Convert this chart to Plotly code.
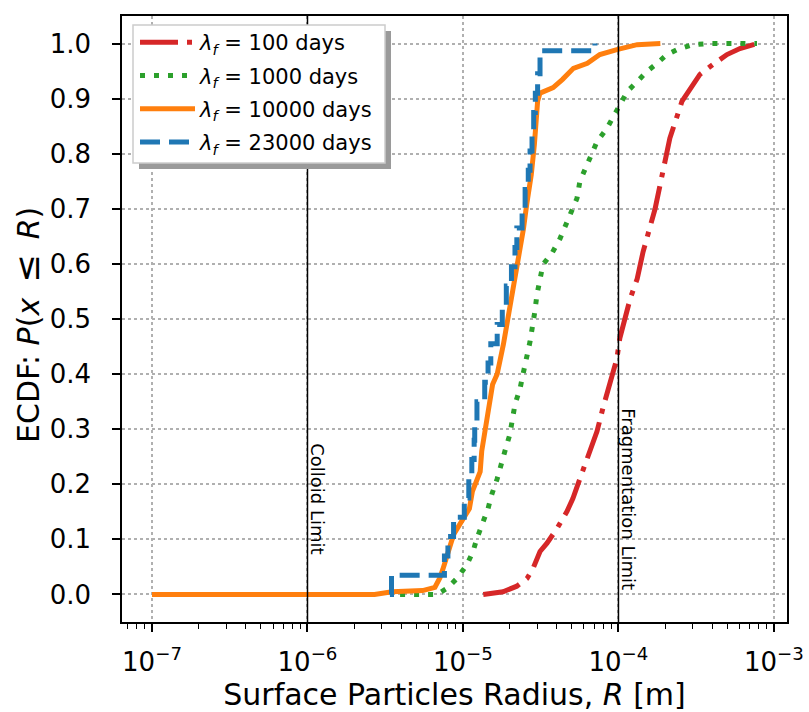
import numpy as np
import plotly.graph_objects as go

# ECDF of surface particle radius [m] for each fragmentation timescale
LABELS = ["100", "1000", "10000", "23000"]

R_100 = [1.35e-5, 1.81e-5, 2.22e-5, 2.58e-5, 2.82e-5, 3.13e-5, 3.47e-5, 4.03e-5,
         4.67e-5, 5.09e-5, 5.65e-5, 6.27e-5, 7.28e-5, 7.94e-5, 8.81e-5, 9.77e-5,
         1.02e-4, 1.19e-4, 1.32e-4, 1.44e-4, 1.72e-4, 2.05e-4, 2.14e-4, 2.56e-4,
         3.34e-4, 4.06e-4, 4.99e-4, 6.04e-4, 7.78e-4, 8.38e-4]
P_100 = [0.0, 0.005, 0.015, 0.029, 0.047, 0.078, 0.093, 0.12,
         0.151, 0.174, 0.21, 0.247, 0.296, 0.338, 0.381, 0.428,
         0.465, 0.537, 0.573, 0.622, 0.70, 0.80, 0.828, 0.895,
         0.944, 0.962, 0.98, 0.991, 1.0, 1.0]

R_1000 = [3.94e-6, 6.81e-6, 7.89e-6, 9.14e-6, 1.06e-5, 1.16e-5, 1.23e-5, 1.35e-5,
          1.45e-5, 1.53e-5, 1.66e-5, 1.86e-5, 2.00e-5, 2.16e-5, 2.33e-5, 2.43e-5,
          2.58e-5, 2.70e-5, 2.90e-5, 2.99e-5, 3.27e-5, 3.73e-5, 4.21e-5, 5.02e-5,
          5.41e-5, 5.65e-5, 7.28e-5, 8.43e-5, 9.48e-5, 1.02e-4, 1.14e-4, 1.32e-4,
          1.52e-4, 1.77e-4, 2.05e-4, 2.38e-4, 3.01e-4, 3.87e-4, 7.78e-4]
P_1000 = [0.0, 0.0, 0.011, 0.029, 0.054, 0.078, 0.102, 0.132,
          0.156, 0.181, 0.21, 0.26, 0.29, 0.345, 0.374, 0.399,
          0.428, 0.459, 0.514, 0.544, 0.599, 0.619, 0.646, 0.695,
          0.719, 0.75, 0.822, 0.846, 0.871, 0.891, 0.913, 0.931,
          0.949, 0.964, 0.98, 0.989, 0.998, 1.0, 1.0]

R_10000 = [1.0e-7, 2.7e-6, 3.5e-6, 5.5e-6, 6.6e-6, 7.1e-6, 7.41e-6, 7.94e-6,
           8.71e-6, 1.10e-5, 1.15e-5, 1.29e-5, 1.32e-5, 1.55e-5, 1.66e-5, 1.82e-5,
           1.95e-5, 2.00e-5, 2.24e-5, 2.45e-5, 2.57e-5, 2.75e-5, 2.88e-5, 3.02e-5,
           3.13e-5, 3.80e-5, 4.37e-5, 5.13e-5, 6.31e-5, 7.59e-5, 9.77e-5, 1.32e-4,
           1.86e-4]
P_10000 = [0.0, 0.0, 0.005, 0.007, 0.013, 0.03, 0.045, 0.073,
           0.109, 0.156, 0.187, 0.223, 0.26, 0.381, 0.40, 0.454,
           0.50, 0.519, 0.598, 0.664, 0.708, 0.762, 0.817, 0.895,
           0.91, 0.92, 0.935, 0.955, 0.964, 0.98, 0.989, 0.998,
           1.0]

R_23000 = [3.39e-6, 3.47e-6, 7.6e-6, 8.0e-6, 8.7e-6, 1.02e-5, 1.09e-5, 1.14e-5,
           1.18e-5, 1.19e-5, 1.23e-5, 1.38e-5, 1.45e-5, 1.51e-5, 1.66e-5, 1.79e-5,
           1.90e-5, 2.05e-5, 2.16e-5, 2.22e-5, 2.40e-5, 2.51e-5, 2.63e-5, 2.70e-5,
           2.78e-5, 2.85e-5, 2.92e-5, 3.02e-5, 3.13e-5, 7.06e-5]
P_23000 = [0.0, 0.035, 0.07, 0.105, 0.14, 0.175, 0.21, 0.245,
           0.28, 0.315, 0.35, 0.385, 0.42, 0.455, 0.49, 0.525,
           0.56, 0.595, 0.63, 0.665, 0.70, 0.735, 0.77, 0.805,
           0.84, 0.875, 0.91, 0.945, 0.987, 1.0]

COLLOID_LIMIT = 1e-6
FRAGMENTATION_LIMIT = 1e-4

X_TICKS = [1e-7, 1e-6, 1e-5, 1e-4, 1e-3]
X_TICK_TEXT = ["10<sup>\u22127</sup>", "10<sup>\u22126</sup>", "10<sup>\u22125</sup>",
               "10<sup>\u22124</sup>", "10<sup>\u22123</sup>"]

FONT = "DejaVu Sans"

# plot area in pixels (for placing the legend frame in paper coords)
PL, PR, PT, PB = 122, 787, 16, 622


def px_x(x):
    return (x - PL) / (PR - PL)


def px_y(y):
    return (PB - y) / (PB - PT)


series = [
    (R_100, P_100, "#d62728", "38px,9px,5px,9px", "linear"),
    (R_1000, P_1000, "#2ca02c", "5px,9px", "linear"),
    (R_10000, P_10000, "#ff7f0e", "solid", "linear"),
    (R_23000, P_23000, "#1f77b4", "20px,9px", "hv"),
]

fig = go.Figure()
for label, (r, p, color, dash, shape) in zip(LABELS, series):
    fig.add_trace(go.Scatter(
        x=r, y=p, mode="lines",
        name=f"<i>\u03bb<sub>f</sub></i> = {label} days",
        legendgroup=label,
        line=dict(color=color, width=5, dash=dash, shape=shape),
    ))

for lim in (COLLOID_LIMIT, FRAGMENTATION_LIMIT):
    fig.add_vline(x=lim, line_color="black", line_width=1.5, layer="above")

for lim, txt in ((COLLOID_LIMIT, "Colloid Limit"), (FRAGMENTATION_LIMIT, "Fragmentation Limit")):
    fig.add_annotation(x=np.log10(lim), y=0.173, text=txt,
                       textangle=90, showarrow=False, xanchor="left", yanchor="middle",
                       xshift=-2, font=dict(family=FONT, size=18, color="black"))

# y axis title, placed by hand like matplotlib does
fig.add_annotation(xref="paper", yref="paper", x=px_x(27), y=px_y(325),
                   text=("ECDF: <i>P</i>(<i>x</i>\u2002"
                         "<span style='font-size:34px'>\u2264</span>\u2002<i>R</i>)"),
                   textangle=-90, showarrow=False, xanchor="center", yanchor="middle",
                   font=dict(family=FONT, size=30, color="black"))

# legend frame with matplotlib-style shadow
fig.add_shape(type="rect", xref="paper", yref="paper",
              x0=px_x(139), x1=px_x(391), y0=px_y(169), y1=px_y(31),
              fillcolor="#9a9a9a", line_width=0, layer="above")
fig.add_shape(type="rect", xref="paper", yref="paper",
              x0=px_x(133), x1=px_x(385), y0=px_y(163), y1=px_y(25),
              fillcolor="white", line=dict(color="#cccccc", width=1.5), layer="above")

fig.update_xaxes(
    type="log", range=[-7.193, -2.916], automargin=False,
    tickvals=X_TICKS, ticktext=X_TICK_TEXT,
    ticks="outside", ticklen=8, tickwidth=1.5, tickcolor="black",
    ticklabelstandoff=8,
    minor=dict(ticks="outside", ticklen=5, tickwidth=1, tickcolor="black",
               dtick="D1", showgrid=False),
    showline=True, linecolor="black", linewidth=1.5, mirror=True,
    showgrid=True, gridcolor="#b0b0b0", gridwidth=1.5, griddash="dot",
    zeroline=False,
    tickfont=dict(family=FONT, size=26, color="black"),
    title=dict(text="Surface Particles Radius, <i>R</i> [m]",
               font=dict(family=FONT, size=30, color="black"), standoff=16),
)
fig.update_yaxes(
    range=[-0.05, 1.05], dtick=0.1, tick0=0, tickformat=".1f", automargin=False,
    ticks="outside", ticklen=8, tickwidth=1.5, tickcolor="black",
    ticklabelstandoff=16,
    showline=True, linecolor="black", linewidth=1.5, mirror=True,
    showgrid=True, gridcolor="#b0b0b0", gridwidth=1.5, griddash="dot",
    zeroline=False,
    tickfont=dict(family=FONT, size=26, color="black"),
)

fig.update_layout(
    width=809, height=712,
    margin=dict(l=PL, r=809 - PR, t=PT, b=712 - PB),
    paper_bgcolor="white", plot_bgcolor="white",
    font=dict(family=FONT, color="black"),
    legend=dict(
        x=px_x(135), y=px_y(22), xanchor="left", yanchor="top",
        bgcolor="rgba(0,0,0,0)", borderwidth=0,
        font=dict(family=FONT, size=21, color="black"),
        itemwidth=55, tracegroupgap=3,
    ),
)

# drop the default page margin so the figure fills the window exactly
fig.write_html("out.html", config={"displayModeBar": False},
               post_script="document.body.style.margin = '0';")
